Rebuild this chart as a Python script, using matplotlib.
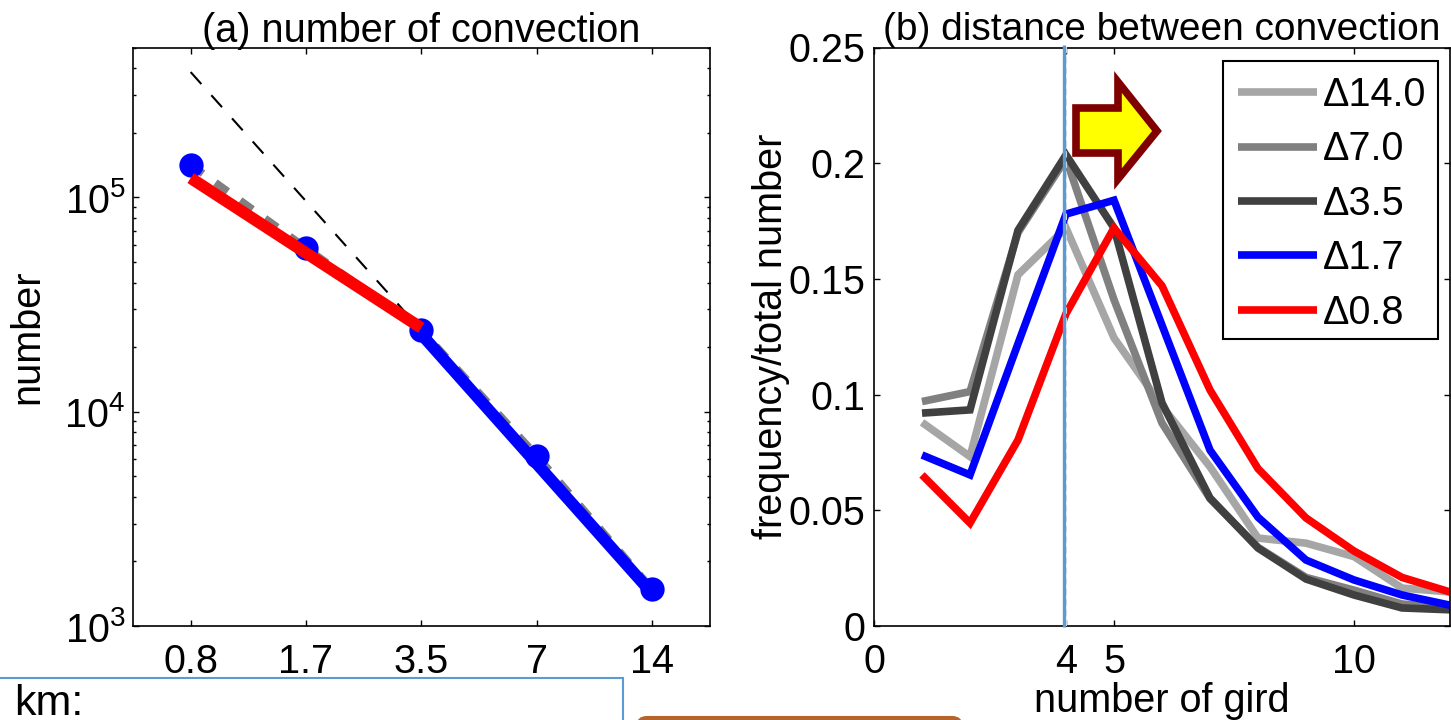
import numpy as np
import matplotlib
matplotlib.use('Agg')
import matplotlib.pyplot as plt
from matplotlib.lines import Line2D
from matplotlib.patches import Polygon, Rectangle, FancyBboxPatch
from matplotlib.transforms import Affine2D

plt.rcParams['font.family'] = ['Liberation Sans', 'DejaVu Sans']
plt.rcParams['mathtext.fontset'] = 'custom'
plt.rcParams['mathtext.rm'] = 'Liberation Sans'
plt.rcParams['mathtext.default'] = 'regular'
plt.rcParams['lines.solid_capstyle'] = 'butt'
plt.rcParams['lines.solid_joinstyle'] = 'miter'

# panel (a)
grid_labels = ['0.8', '1.7', '3.5', '7', '14']
grid_pos = [1, 2, 3, 4, 5]
number_all = [1.42e5, 5.8e4, 2.4e4, 6240, 1490]
number_fine = [1.23e5, 2.46e4]
number_coarse = [2.3e4, 1425]
number_slope = [3.84e5, 9.6e4, 2.4e4]

# panel (b)
n_grid = [1, 2, 3, 4, 5, 6, 7, 8, 9, 10, 11, 12]
d140 = [0.088, 0.0732, 0.1518, 0.172, 0.1245, 0.095, 0.0688, 0.038, 0.0358, 0.030, 0.0164, 0.0147]
d70 = [0.097, 0.1013, 0.170, 0.202, 0.141, 0.0877, 0.055, 0.034, 0.021, 0.0155, 0.0095, 0.008]
d35 = [0.092, 0.0934, 0.171, 0.2036, 0.172, 0.0964, 0.0553, 0.0337, 0.0203, 0.0134, 0.0078, 0.007]
d17 = [0.0739, 0.0653, 0.122, 0.178, 0.184, 0.130, 0.076, 0.047, 0.0285, 0.0199, 0.0134, 0.009]
d08 = [0.0653, 0.0445, 0.0804, 0.135, 0.172, 0.147, 0.102, 0.068, 0.0467, 0.0324, 0.021, 0.0147]

W, H = 1451, 720
FS = 28.5
fig = plt.figure(figsize=(W / 100, H / 100), dpi=100)
px = Affine2D().scale(1, -1).translate(0, H)  # pixel coords, origin top left


def box(l, t, r, b):
    return [l / W, 1 - b / H, (r - l) / W, (b - t) / H]


ax1 = fig.add_axes(box(133, 47.5, 709.5, 626))
ax1.plot(grid_pos[:3], number_slope, color='k', lw=1.5, linestyle=(0, (7.7, 7.2)))
ax1.plot(grid_pos, number_all, color='0.5', lw=5.5, linestyle=(0, (2, 2)))
ax1.plot(grid_pos, number_all, 'o', color='#0000ff', ms=17.5, mew=0)
ax1.plot([grid_pos[2], grid_pos[4]], number_coarse, color='#0000ff', lw=8.5)
ax1.plot([grid_pos[0], grid_pos[2]], number_fine, color='#ff0000', lw=8.5)
ax1.set_yscale('log')
ax1.set_xlim(0.5, 5.5)
ax1.set_ylim(1e3, 5e5)
ax1.set_xticks(grid_pos)
ax1.set_xticklabels(grid_labels)
ax1.set_yticks([1e3, 1e4, 1e5])
ax1.set_yticklabels(['$10^{3}$', '$10^{4}$', '$10^{5}$'])
ax1.set_ylabel('number', fontsize=FS)
ax1.yaxis.set_label_coords((46 - 133) / 576.5, 0.5)
ax1.set_title('(a) number of convection', fontsize=FS, pad=4)

ax2 = fig.add_axes(box(874, 47.5, 1450, 626))
ax2.plot(n_grid, d140, color='#a6a6a6', lw=5.5, label='Δ14.0')
ax2.plot(n_grid, d70, color='#808080', lw=5.5, label='Δ7.0')
ax2.plot(n_grid, d35, color='#404040', lw=5.5, label='Δ3.5')
ax2.plot(n_grid, d17, color='#0000ff', lw=5.5, label='Δ1.7')
ax2.plot(n_grid, d08, color='#ff0000', lw=5.5, label='Δ0.8')
ax2.set_xlim(0, 12)
ax2.set_ylim(0, 0.25)
ax2.set_xticks([0, 4, 5, 10])
ax2.set_yticks([0, 0.05, 0.1, 0.15, 0.2, 0.25])
ax2.set_yticklabels(['0', '0.05', '0.1', '0.15', '0.2', '0.25'])
ax2.set_xlabel('number of gird', fontsize=FS)
ax2.xaxis.set_label_coords(0.5, -(682 - 626) / 578.5)
ax2.set_ylabel('frequency/total number', fontsize=FS)
ax2.yaxis.set_label_coords((790 - 874) / 576, 0.5)
ax2.set_title('(b) distance between convection', fontsize=28, pad=4)

# legend frame drawn on its own so its height matches
ax2.add_patch(Rectangle((1222.5, 61), 215.5, 278, facecolor='w', edgecolor='k', lw=1.5,
                        transform=px, clip_on=False, zorder=4.5))
ax2.legend(loc='upper left', bbox_to_anchor=(1222.5 / W, 1 - 61 / H), bbox_transform=fig.transFigure,
           fontsize=FS, frameon=False, borderaxespad=0,
           handlelength=2.0, handletextpad=0.15, labelspacing=0.415, borderpad=0.38)

for ax in (ax1, ax2):
    ax.tick_params(which='major', direction='in', top=True, right=True, length=4, width=1,
                   labelsize=FS, pad=12)
    ax.tick_params(which='minor', direction='in', top=True, right=True, length=2, width=1)
    for s in ax.spines.values():
        s.set_linewidth(1.2)
ax1.minorticks_on()
ax1.xaxis.set_tick_params(which='minor', top=False, bottom=False)
ax1.yaxis.set_tick_params(which='major', pad=5.5)
ax2.yaxis.set_tick_params(which='major', pad=6)

# vertical marker line and arrow, in figure pixels
fig.add_artist(Line2D([1066, 1066], [47, 626], color='#e0e0e0', lw=1.5, linestyle=(0, (3, 2)), transform=px))
fig.add_artist(Line2D([1063.5, 1063.5], [45, 627], color='#5b9bd5', lw=2.4, transform=px))
arrow_xy = [(1076, 108), (1118, 108), (1118, 82), (1157, 131), (1118, 179), (1118, 153), (1076, 153)]
fig.add_artist(Polygon(arrow_xy, closed=True, facecolor='#ffff00', edgecolor='#7f0000', lw=5.5,
                       joinstyle='miter', transform=px))

# bits of the boxes below the chart
fig.add_artist(Rectangle((-5, 677.5), 627.5, 60, facecolor='w', edgecolor='#5b9bd5', lw=1.5, transform=px))
fig.text(14 / W, 1 - 704 / H, 'km:', fontsize=31, va='center', ha='left')
fig.add_artist(FancyBboxPatch((637, 717), 325, 30, boxstyle='round,pad=0,rounding_size=10', mutation_scale=1,
                              facecolor='#b5652b', edgecolor='#b5652b', lw=1.5, transform=px))

fig.savefig('out.png', dpi=100)
